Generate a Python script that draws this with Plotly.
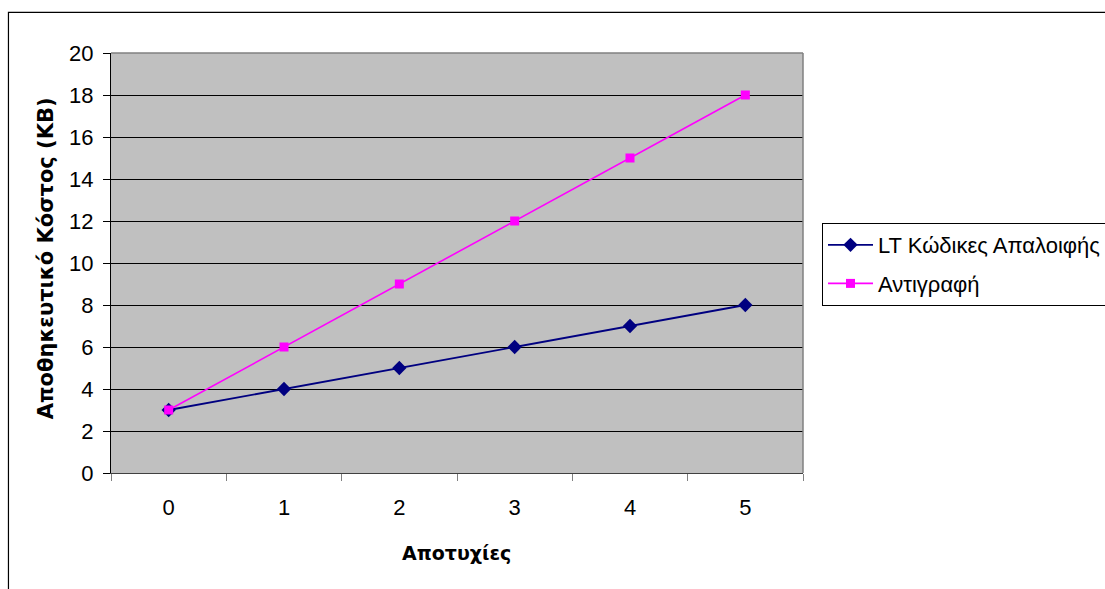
import plotly.graph_objects as go

# Storage cost (KB) versus number of failures
failures = ["0", "1", "2", "3", "4", "5"]
lt_codes = [3, 4, 5, 6, 7, 8]
replication = [3, 6, 9, 12, 15, 18]

series_names = ["LT Κώδικες Απαλοιφής", "Αντιγραφή"]
x_title = "Αποτυχίες"
y_title = "Αποθηκευτικό Κόστος (ΚΒ)"
y_ticks = [0, 2, 4, 6, 8, 10, 12, 14, 16, 18, 20]

FONT = "Liberation Sans, Arial, sans-serif"
TITLE_FONT = "DejaVu Sans, Verdana, sans-serif"

# plot area in pixels
PL, PR, PT, PB = 111, 802.7, 52.7, 472.7
PW, PH = PR - PL, PB - PT

fig = go.Figure()
fig.add_trace(go.Scatter(
    x=failures, y=lt_codes, name=series_names[0], mode="lines+markers",
    line=dict(color="#000080", width=1.8),
    marker=dict(symbol="diamond", size=11, color="#000080"),
    legendgroup="a",
))
fig.add_trace(go.Scatter(
    x=failures, y=replication, name=series_names[1], mode="lines+markers",
    line=dict(color="#FF00FF", width=1.6),
    marker=dict(symbol="square", size=9, color="#FF00FF"),
    legendgroup="b",
))

fig.update_layout(
    width=1105, height=589,
    margin=dict(l=PL, r=1105 - PR, t=PT, b=589 - PB, autoexpand=False),
    paper_bgcolor="white",
    plot_bgcolor="#C0C0C0",
    font=dict(family=FONT, size=22, color="black"),
    showlegend=True,
    legend=dict(
        x=(821.7 - PL) / PW, y=1 - (222.7 - PT) / PH,
        xanchor="left", yanchor="top",
        bordercolor="black", borderwidth=1, bgcolor="white",
        font=dict(family=FONT, size=22),
        itemwidth=45, tracegroupgap=7, traceorder="grouped",
    ),
    xaxis=dict(
        type="category", tickson="boundaries", range=[-0.5, 5.5],
        ticks="outside", ticklen=7, tickcolor="#808080",
        showline=True, linecolor="#404040", linewidth=1,
        showgrid=False, zeroline=False,
        ticklabelstandoff=15,
        tickfont=dict(family=FONT, size=22),
    ),
    yaxis=dict(
        range=[0, 20], tickvals=y_ticks,
        ticks="outside", ticklen=7, tickcolor="black",
        showline=True, linecolor="black", linewidth=1,
        showgrid=True, gridcolor="black", gridwidth=1,
        zeroline=False,
        ticklabelstandoff=5,
        tickfont=dict(family=FONT, size=22),
    ),
    shapes=[
        # grey frame on the top and right edges of the plot area
        dict(type="line", xref="paper", yref="paper", x0=0, x1=1, y0=1, y1=1,
             line=dict(color="#808080", width=1.5), layer="above"),
        dict(type="line", xref="paper", yref="paper", x0=1, x1=1, y0=0, y1=1,
             line=dict(color="#808080", width=1.5), layer="above"),
        # outer chart frame
        dict(type="rect", xref="paper", yref="paper",
             x0=(8.5 - PL) / PW, x1=1.6, y0=-0.6, y1=1 + (PT - 12) / PH,
             line=dict(color="black", width=1.2), layer="above"),
    ],
    annotations=[
        dict(text=f"<b>{x_title}</b>", xref="paper", yref="paper",
             x=(456 - PL) / PW, y=-(553 - PB) / PH,
             xanchor="center", yanchor="middle", showarrow=False,
             font=dict(family=TITLE_FONT, size=19)),
        dict(text=f"<b>{y_title}</b>", xref="paper", yref="paper",
             x=(46 - PL) / PW, y=1 - (258 - PT) / PH,
             xanchor="center", yanchor="middle", showarrow=False, textangle=-90,
             font=dict(family=TITLE_FONT, size=21)),
    ],
)

fig.write_html("out.html")
